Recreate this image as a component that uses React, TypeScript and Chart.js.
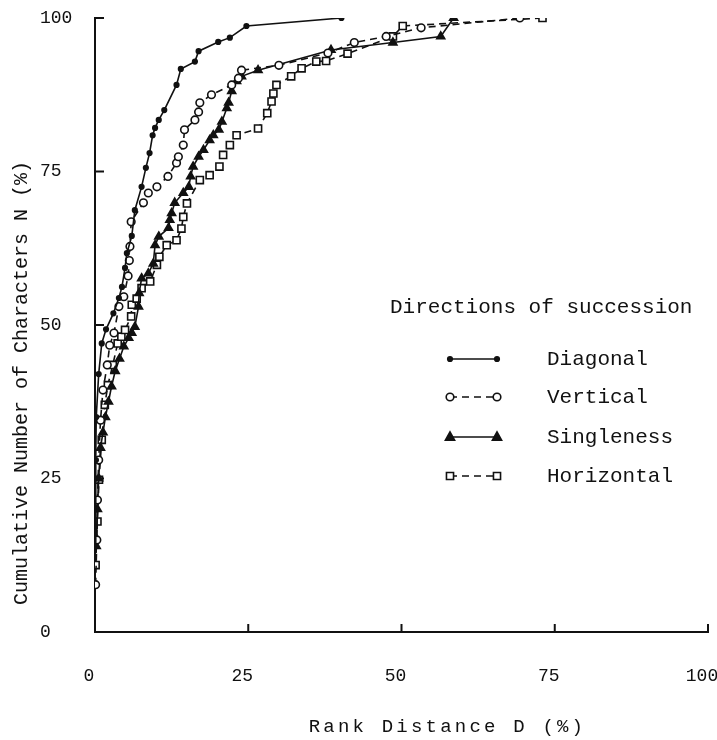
import React, { useEffect, useRef } from 'react';
import { Chart, registerables } from 'chart.js';

Chart.register(...registerables);

// [rank distance D (%), cumulative number N (%)]
const diagonal: [number, number][] = [
  [0.05, 14], [0.1, 20], [0.15, 28], [0.2, 35], [0.6, 42], [1.1, 47], [1.8, 49.3],
  [3.0, 51.9], [3.9, 54.4], [4.4, 56.2], [4.9, 59.3], [5.2, 61.7], [6.0, 64.5],
  [6.5, 68.7], [7.6, 72.5], [8.3, 75.6], [8.9, 78.0], [9.4, 80.9], [9.8, 82.1],
  [10.4, 83.4], [11.3, 85.0], [13.3, 89.1], [14.0, 91.7], [16.3, 92.9], [16.9, 94.6],
  [20.1, 96.1], [22.0, 96.8], [24.7, 98.7], [40.2, 100],
];

const vertical: [number, number][] = [
  [0.1, 7.7], [0.3, 15], [0.4, 21.5], [0.6, 28], [0.9, 34.5], [1.3, 39.4], [2.0, 43.5],
  [2.4, 46.7], [3.1, 48.7], [3.9, 53.0], [4.7, 54.6], [5.4, 58], [5.6, 60.5], [5.7, 62.8],
  [5.9, 66.8], [7.9, 69.9], [8.7, 71.5], [10.1, 72.5], [11.9, 74.2], [13.3, 76.4],
  [13.6, 77.4], [14.4, 79.3], [14.6, 81.8], [16.3, 83.4], [16.9, 84.7], [17.1, 86.2],
  [19.0, 87.5], [22.3, 89.1], [23.4, 90.2], [23.9, 91.5], [30, 92.3], [38, 94.3],
  [42.3, 96.0], [47.5, 97.0], [53.2, 98.4], [69.3, 100],
];

const singleness: [number, number][] = [
  [0.2, 14], [0.4, 20], [0.6, 25], [0.9, 30], [1.3, 32.5], [1.7, 35], [2.2, 37.5],
  [2.7, 40], [3.3, 42.5], [4.0, 44.5], [4.7, 46.5], [5.5, 47.9], [6.0, 48.7], [6.5, 49.7],
  [7.1, 53.0], [7.2, 55.2], [7.6, 57.6], [8.7, 58.4], [9.5, 60.0], [9.8, 63.0],
  [10.4, 64.4], [12.0, 65.8], [12.2, 67.1], [12.5, 68.2], [13.0, 69.9], [14.4, 71.5],
  [15.3, 72.5], [15.6, 74.2], [16.0, 75.8], [16.9, 77.4], [17.7, 78.5], [18.7, 80.1],
  [19.3, 80.9], [20.2, 81.8], [20.7, 83.1], [21.5, 85.3], [21.8, 86.2], [22.3, 88.1],
  [23.1, 89.7], [23.9, 90.5], [26.6, 91.5], [38.5, 94.8], [48.6, 96.0], [56.4, 97.0],
  [58.5, 100],
];

const horizontal: [number, number][] = [
  [0.1, 10.9], [0.4, 18], [0.65, 24.8], [1.1, 31.3], [1.6, 37.0], [2.1, 40.2],
  [2.9, 43.5], [3.7, 47.0], [4.3, 48.1], [4.9, 49.2], [5.9, 51.4], [6.0, 53.3],
  [6.8, 54.3], [7.6, 56.0], [9.0, 57.1], [10.1, 59.8], [10.5, 61.1], [11.7, 63.0],
  [13.3, 63.8], [14.1, 65.7], [14.4, 67.6], [15.0, 69.8], [17.1, 73.6], [18.7, 74.4],
  [20.3, 75.8], [20.9, 77.7], [22.0, 79.3], [23.1, 80.9], [26.6, 82.0], [28.1, 84.5],
  [28.8, 86.4], [29.1, 87.7], [29.6, 89.1], [32.0, 90.5], [33.7, 91.8], [36.1, 92.9],
  [37.7, 93.0], [41.2, 94.2], [48.6, 97.0], [50.2, 98.7], [73.0, 100],
];

const seriesNames = ['Diagonal', 'Vertical', 'Singleness', 'Horizontal'];
const xTickValues = [0, 25, 50, 75, 100];
const yTickValues = [0, 25, 50, 75, 100];
const legendTitle = 'Directions of succession';
const xTitle = 'Rank Distance D (%)';
const yTitle = 'Cumulative Number of Characters N (%)';

const FONT = '"Liberation Mono", "DejaVu Sans Mono", monospace';
const INK = '#111';

function drawMarker(ctx: CanvasRenderingContext2D, style: string, x: number, y: number, r: number, fill: string) {
  ctx.beginPath();
  if (style === 'circle') {
    ctx.arc(x, y, r, 0, Math.PI * 2);
  } else if (style === 'triangle') {
    ctx.moveTo(x, y - r * 1.1);
    ctx.lineTo(x + r, y + r * 0.7);
    ctx.lineTo(x - r, y + r * 0.7);
    ctx.closePath();
  } else {
    const s = r * Math.SQRT1_2;
    ctx.rect(x - s, y - s, 2 * s, 2 * s);
  }
  ctx.fillStyle = fill;
  ctx.fill();
  ctx.stroke();
}

const axisDecor = {
  id: 'axisDecor',
  afterDraw(chart: any) {
    const { ctx, chartArea, scales } = chart;
    const xs = scales.x;
    const ys = scales.y;
    ctx.save();
    ctx.strokeStyle = INK;
    ctx.lineWidth = 2;
    xTickValues.forEach((v) => {
      if (v === 0) return;
      const px = xs.getPixelForValue(v);
      ctx.beginPath();
      ctx.moveTo(px, chartArea.bottom);
      ctx.lineTo(px, chartArea.bottom - 8);
      ctx.stroke();
    });
    yTickValues.forEach((v) => {
      if (v === 0) return;
      const py = ys.getPixelForValue(v);
      ctx.beginPath();
      ctx.moveTo(chartArea.left, py);
      ctx.lineTo(chartArea.left + 9, py);
      ctx.stroke();
    });

    // axis titles
    ctx.fillStyle = INK;
    ctx.textBaseline = 'middle';
    ctx.font = `19px ${FONT}`;
    (ctx as any).letterSpacing = '3.2px';
    ctx.textAlign = 'center';
    ctx.fillText(xTitle, chartArea.left + (chartArea.right - chartArea.left) * 0.575, 727);
    (ctx as any).letterSpacing = '0px';
    ctx.font = `20px ${FONT}`;
    ctx.save();
    ctx.translate(22, chartArea.bottom - 27);
    ctx.rotate(-Math.PI / 2);
    ctx.textAlign = 'left';
    ctx.fillText(yTitle, 0, 0);
    ctx.restore();

    // legend
    ctx.font = `21px ${FONT}`;
    ctx.textAlign = 'left';
    ctx.fillText(legendTitle, 390, 307);
    const rows = [359, 397, 437, 476];
    chart.data.datasets.forEach((ds: any, i: number) => {
      const y = rows[i];
      ctx.save();
      ctx.strokeStyle = INK;
      ctx.lineWidth = 1.6;
      ctx.setLineDash(ds.borderDash || []);
      ctx.beginPath();
      ctx.moveTo(450, y);
      ctx.lineTo(497, y);
      ctx.stroke();
      ctx.setLineDash([]);
      ctx.lineWidth = ds.pointBorderWidth;
      drawMarker(ctx, ds.pointStyle, 450, y, ds.pointRadius, ds.pointBackgroundColor);
      drawMarker(ctx, ds.pointStyle, 497, y, ds.pointRadius, ds.pointBackgroundColor);
      ctx.restore();
      ctx.fillStyle = INK;
      ctx.fillText(ds.label, 547, y);
    });
    ctx.restore();
  },
};

export default function App() {
  const ref = useRef<HTMLCanvasElement | null>(null);

  useEffect(() => {
    if (!ref.current) return;
    const toPts = (arr: [number, number][]) => arr.map(([x, y]) => ({ x, y }));
    const base = {
      showLine: true,
      borderColor: INK,
      borderWidth: 1.6,
      pointBorderColor: INK,
      pointBorderWidth: 1.6,
      pointHoverRadius: 0,
    };
    const chart = new Chart(ref.current, {
      type: 'scatter',
      data: {
        datasets: [
          { ...base, label: seriesNames[0], data: toPts(diagonal), pointStyle: 'circle', pointRadius: 2.3, pointBackgroundColor: INK, borderDash: [] },
          { ...base, label: seriesNames[1], data: toPts(vertical), pointStyle: 'circle', pointRadius: 3.8, pointBackgroundColor: '#fff', borderDash: [7, 5] },
          { ...base, label: seriesNames[2], data: toPts(singleness), pointStyle: 'triangle', pointRadius: 4.6, pointBackgroundColor: INK, borderDash: [] },
          { ...base, label: seriesNames[3], data: toPts(horizontal), pointStyle: 'rect', pointRadius: 5, pointBackgroundColor: '#fff', borderDash: [7, 5] },
        ] as any,
      },
      options: {
        responsive: false,
        animation: false,
        devicePixelRatio: 1,
        layout: { padding: { left: 40, top: 18, right: 9, bottom: 0 } },
        plugins: { legend: { display: false }, tooltip: { enabled: false } },
        scales: {
          x: {
            type: 'linear',
            min: 0,
            max: 100,
            afterBuildTicks: (s: any) => { s.ticks = xTickValues.map((v) => ({ value: v })); },
            afterFit: (s: any) => { s.height = 108; s.paddingLeft = 0; s.paddingRight = 0; },
            grid: { display: false, drawTicks: false },
            border: { display: true, color: INK, width: 2 },
            ticks: { color: INK, font: { family: FONT, size: 18 }, padding: 33, maxRotation: 0, labelOffset: -6 },
            title: { display: false, text: xTitle },
          },
          y: {
            type: 'linear',
            min: 0,
            max: 100,
            afterBuildTicks: (s: any) => { s.ticks = yTickValues.map((v) => ({ value: v })); },
            afterFit: (s: any) => { s.width = 55; s.paddingTop = 0; s.paddingBottom = 0; },
            grid: { display: false, drawTicks: false },
            border: { display: true, color: INK, width: 2 },
            ticks: { color: INK, font: { family: FONT, size: 18 }, padding: 24, crossAlign: 'far' },
            title: { display: false, text: yTitle },
          },
        },
      },
      plugins: [axisDecor],
    } as any);
    return () => chart.destroy();
  }, []);

  return (
    <div style={{ position: 'absolute', left: 0, top: 0, width: 717, height: 740, background: '#fff' }}>
      <canvas ref={ref} width={717} height={740} />
    </div>
  );
}
